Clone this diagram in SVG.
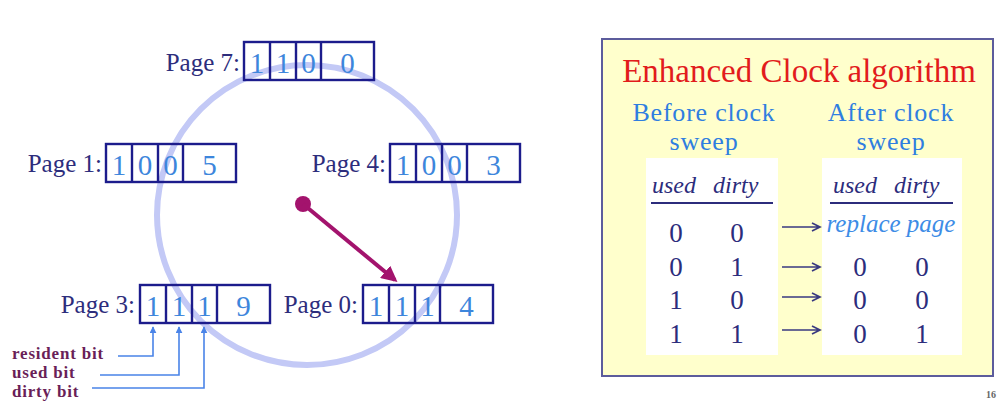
<svg xmlns="http://www.w3.org/2000/svg" width="1002" height="406" viewBox="0 0 1002 406">
  <defs>
    <style>
      .lbl { font-family: "Liberation Serif", "Times New Roman", serif; font-size: 25px; fill: #2d2d7c; text-anchor: end; }
      .cell { fill: none; stroke: #1c1c8c; stroke-width: 2.4; }
      .bit { font-family: "Liberation Serif", "Times New Roman", serif; font-size: 29px; fill: #3d86dc; text-anchor: middle; }
      .note { font-family: "Liberation Serif", "Times New Roman", serif; font-size: 17px; font-weight: bold; letter-spacing: 0.8px; fill: #6a1f58; }
      .ptr { fill: none; stroke: #4a84e8; stroke-width: 1.6; }
      .title { font-family: "Liberation Serif", "Times New Roman", serif; font-size: 33px; fill: #e21c1c; text-anchor: middle; }
      .sub { font-family: "Liberation Serif", "Times New Roman", serif; font-size: 26px; letter-spacing: 0.8px; fill: #2f7ee0; text-anchor: middle; }
      .hdr { font-family: "Liberation Serif", "Times New Roman", serif; font-size: 24px; font-style: italic; fill: #2c2c7c; }
      .val { font-family: "Liberation Serif", "Times New Roman", serif; font-size: 27px; fill: #2c2c7c; text-anchor: middle; }
      .rule { stroke: #2c2c7c; stroke-width: 2; }
      .map { fill: none; stroke: #3a3a80; stroke-width: 1.7; }
    </style>
    <marker id="upHead" viewBox="0 0 10 10" refX="9" refY="5" markerWidth="7" markerHeight="7" orient="auto" markerUnits="userSpaceOnUse">
      <path d="M0,0 L10,5 L0,10 z" fill="#4a84e8"/>
    </marker>
    <marker id="handHead" viewBox="0 0 10 10" refX="8" refY="5" markerWidth="16" markerHeight="16" orient="auto" markerUnits="userSpaceOnUse">
      <path d="M0,0 L10,5 L0,10 z" fill="#a3136d"/>
    </marker>
    <g id="frame">
      <rect class="cell" x="0" y="0" width="130" height="38"/>
      <line class="cell" x1="26" y1="0" x2="26" y2="38"/>
      <line class="cell" x1="52" y1="0" x2="52" y2="38"/>
      <line class="cell" x1="77" y1="0" x2="77" y2="38"/>
    </g>
  </defs>

  <rect x="0" y="0" width="1002" height="406" fill="#ffffff"/>

  <!-- clock face -->
  <circle cx="307" cy="215" r="150" fill="none" stroke="#c3c9f6" stroke-width="6"/>

  <!-- page frames -->
  <g id="page7">
    <text class="lbl" x="240" y="71">Page 7:</text>
    <g transform="translate(244,42)">
      <use href="#frame"/>
      <text class="bit" x="13" y="31">1</text>
      <text class="bit" x="39" y="31">1</text>
      <text class="bit" x="64.5" y="31">0</text>
      <text class="bit" x="103.5" y="31">0</text>
    </g>
  </g>
  <g id="page1">
    <text class="lbl" x="102" y="172">Page 1:</text>
    <g transform="translate(106,144)">
      <use href="#frame"/>
      <text class="bit" x="13" y="31">1</text>
      <text class="bit" x="39" y="31">0</text>
      <text class="bit" x="64.5" y="31">0</text>
      <text class="bit" x="103.5" y="31">5</text>
    </g>
  </g>
  <g id="page4">
    <text class="lbl" x="386" y="172">Page 4:</text>
    <g transform="translate(390,144)">
      <use href="#frame"/>
      <text class="bit" x="13" y="31">1</text>
      <text class="bit" x="39" y="31">0</text>
      <text class="bit" x="64.5" y="31">0</text>
      <text class="bit" x="103.5" y="31">3</text>
    </g>
  </g>
  <g id="page3">
    <text class="lbl" x="135" y="313">Page 3:</text>
    <g transform="translate(140,285)">
      <use href="#frame"/>
      <text class="bit" x="13" y="31">1</text>
      <text class="bit" x="39" y="31">1</text>
      <text class="bit" x="64.5" y="31">1</text>
      <text class="bit" x="103.5" y="31">9</text>
    </g>
  </g>
  <g id="page0">
    <text class="lbl" x="358" y="313">Page 0:</text>
    <g transform="translate(363,285)">
      <use href="#frame"/>
      <text class="bit" x="13" y="31">1</text>
      <text class="bit" x="39" y="31">1</text>
      <text class="bit" x="64.5" y="31">1</text>
      <text class="bit" x="103.5" y="31">4</text>
    </g>
  </g>

  <!-- bit legend -->
  <g id="legend">
    <text class="note" x="12" y="359">resident bit</text>
    <text class="note" x="12" y="378">used bit</text>
    <text class="note" x="12" y="397">dirty bit</text>
  </g>

  <!-- algorithm panel -->
  <g id="panel">
    <rect x="602" y="39" width="391" height="337" fill="#ffffcc" stroke="#5c5c9c" stroke-width="2"/>
    <text class="title" x="799" y="82">Enhanced Clock algorithm</text>
    <text class="sub" x="704" y="121">Before clock</text>
    <text class="sub" x="704" y="150">sweep</text>
    <text class="sub" x="891" y="121">After clock</text>
    <text class="sub" x="891" y="150">sweep</text>
  </g>
  <g id="before-table">
    <rect x="646" y="158" width="132" height="197" fill="#ffffff"/>
    <text class="hdr" x="652" y="193">used</text>
    <text class="hdr" x="713" y="193">dirty</text>
    <line class="rule" x1="651" y1="203" x2="773" y2="203"/>
    <text class="val" x="676" y="242">0</text><text class="val" x="737" y="242">0</text>
    <text class="val" x="676" y="276">0</text><text class="val" x="737" y="276">1</text>
    <text class="val" x="676" y="309">1</text><text class="val" x="737" y="309">0</text>
    <text class="val" x="676" y="343">1</text><text class="val" x="737" y="343">1</text>
  </g>
  <g id="after-table">
    <rect x="822" y="158" width="140" height="197" fill="#ffffff"/>
    <text class="hdr" x="833" y="193">used</text>
    <text class="hdr" x="894" y="193">dirty</text>
    <line class="rule" x1="830" y1="203" x2="953" y2="203"/>
    <text x="891" y="232" text-anchor="middle" font-family="Liberation Serif, Times New Roman, serif" font-size="25" font-style="italic" fill="#3d8ce6">replace page</text>
    <text class="val" x="860" y="276">0</text><text class="val" x="922" y="276">0</text>
    <text class="val" x="860" y="309">0</text><text class="val" x="922" y="309">0</text>
    <text class="val" x="860" y="343">0</text><text class="val" x="922" y="343">1</text>
  </g>

  <!-- connectors -->
  <g id="connectors">
    <circle cx="303" cy="204" r="8" fill="#a3136d"/>
    <line x1="303" y1="204" x2="395" y2="280" stroke="#a3136d" stroke-width="4" marker-end="url(#handHead)"/>

    <path class="ptr" d="M118,356 H153 V327" marker-end="url(#upHead)"/>
    <path class="ptr" d="M100,375 H179 V327" marker-end="url(#upHead)"/>
    <path class="ptr" d="M92,388 H204 V327" marker-end="url(#upHead)"/>

    <path class="map" d="M782,227 H820 M812,223 L820,227 L812,231"/>
    <path class="map" d="M782,267 H820 M812,263 L820,267 L812,271"/>
    <path class="map" d="M782,297 H820 M812,293 L820,297 L812,301"/>
    <path class="map" d="M782,330 H820 M812,326 L820,330 L812,334"/>
  </g>

  <text x="986" y="398" font-family="Liberation Serif, Times New Roman, serif" font-size="10" font-weight="bold" fill="#666666">16</text>
</svg>
